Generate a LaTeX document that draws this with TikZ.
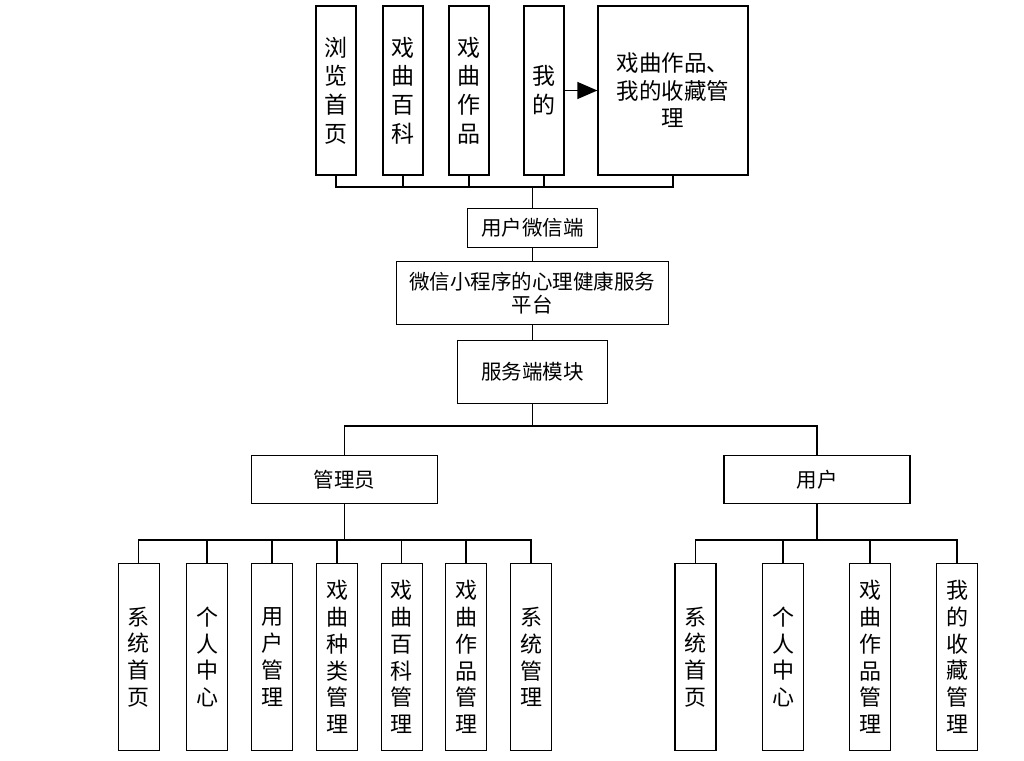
\documentclass[tikz,border=0pt]{standalone}
\usepackage{fontspec}
\newfontfamily\cjk{Noto Sans CJK SC}
\usetikzlibrary{arrows.meta}

\begin{document}
\begin{tikzpicture}[x=1pt,y=-1pt,
  box/.style={draw,line width=1.3pt,inner sep=0pt,align=center,fill=white},
  tallbox/.style={box,minimum width=40pt,minimum height=169pt,font=\cjk\fontsize{23}{28.7}\selectfont},
  subbox/.style={box,minimum width=41pt,minimum height=187pt,font=\cjk\fontsize{22}{26.7}\selectfont},
  midbox/.style={box,font=\cjk\fontsize{20.5}{23.5}\selectfont},
  link/.style={line width=1.3pt}]
  \useasboundingbox (0,0) rectangle (1024,760);
  % top row
  \node[tallbox] (liulan) at (336,90.5) {浏\\览\\首\\页};
  \node[tallbox] (baike) at (403,90.5) {戏\\曲\\百\\科};
  \node[tallbox] (zuopin) at (469,90.5) {戏\\曲\\作\\品};
  \node[tallbox] (wode) at (544,90.5) {我\\的};
  \node[box,minimum width=150pt,minimum height=169pt,font=\cjk\fontsize{22.5}{27.5}\selectfont]
    (shoucang) at (673,90.5) {戏曲作品、\\我的收藏管\\理};
  \draw[link,-{Triangle[length=20pt,width=17pt]}] (wode.east) -- (shoucang.west);
  \coordinate (topbus) at (532.3,187);
  \foreach \n in {liulan,baike,zuopin,wode,shoucang}
    \draw[link] (\n.south) |- (topbus);
  % middle column
  \node[midbox,minimum width=130pt,minimum height=39pt] (wechat) at (532.3,227.8) {用户微信端};
  \node[midbox,minimum width=272pt,minimum height=63pt] (platform) at (532.3,293.3) {微信小程序的心理健康服务\\平台};
  \node[midbox,minimum width=150pt,minimum height=63pt] (server) at (532.3,371.7) {服务端模块};
  \draw[link] (topbus) -- (wechat.north);
  \draw[link] (wechat) -- (platform);
  \draw[link] (platform) -- (server);
  \coordinate (midbus) at (532.3,426);
  \draw[link] (server.south) -- (midbus);
  % roles
  \node[midbox,minimum width=186pt,minimum height=48pt] (admin) at (344.5,479.5) {管理员};
  \node[midbox,minimum width=186pt,minimum height=48pt] (user) at (817,479.5) {用户};
  \draw[link] (midbus) -| (admin.north);
  \draw[link] (midbus) -| (user.north);
  % admin functions
  \node[subbox] (a1) at (138.8,657) {系\\统\\首\\页};
  \node[subbox] (a2) at (207,657) {个\\人\\中\\心};
  \node[subbox] (a3) at (272,657) {用\\户\\管\\理};
  \node[subbox] (a4) at (337,657) {戏\\曲\\种\\类\\管\\理};
  \node[subbox] (a5) at (401.7,657) {戏\\曲\\百\\科\\管\\理};
  \node[subbox] (a6) at (466,657) {戏\\曲\\作\\品\\管\\理};
  \node[subbox] (a7) at (531,657) {系\\统\\管\\理};
  \coordinate (adminbus) at (344.5,540);
  \draw[link] (admin.south) -- (adminbus);
  \foreach \n in {a1,a2,a3,a4,a5,a6,a7}
    \draw[link] (adminbus) -| (\n.north);
  % user functions
  \node[subbox] (u1) at (695.5,657) {系\\统\\首\\页};
  \node[subbox] (u2) at (783,657) {个\\人\\中\\心};
  \node[subbox] (u3) at (870,657) {戏\\曲\\作\\品\\管\\理};
  \node[subbox] (u4) at (957,657) {我\\的\\收\\藏\\管\\理};
  \coordinate (userbus) at (817,540);
  \draw[link] (user.south) -- (userbus);
  \foreach \n in {u1,u2,u3,u4}
    \draw[link] (userbus) -| (\n.north);
\end{tikzpicture}
\end{document}
